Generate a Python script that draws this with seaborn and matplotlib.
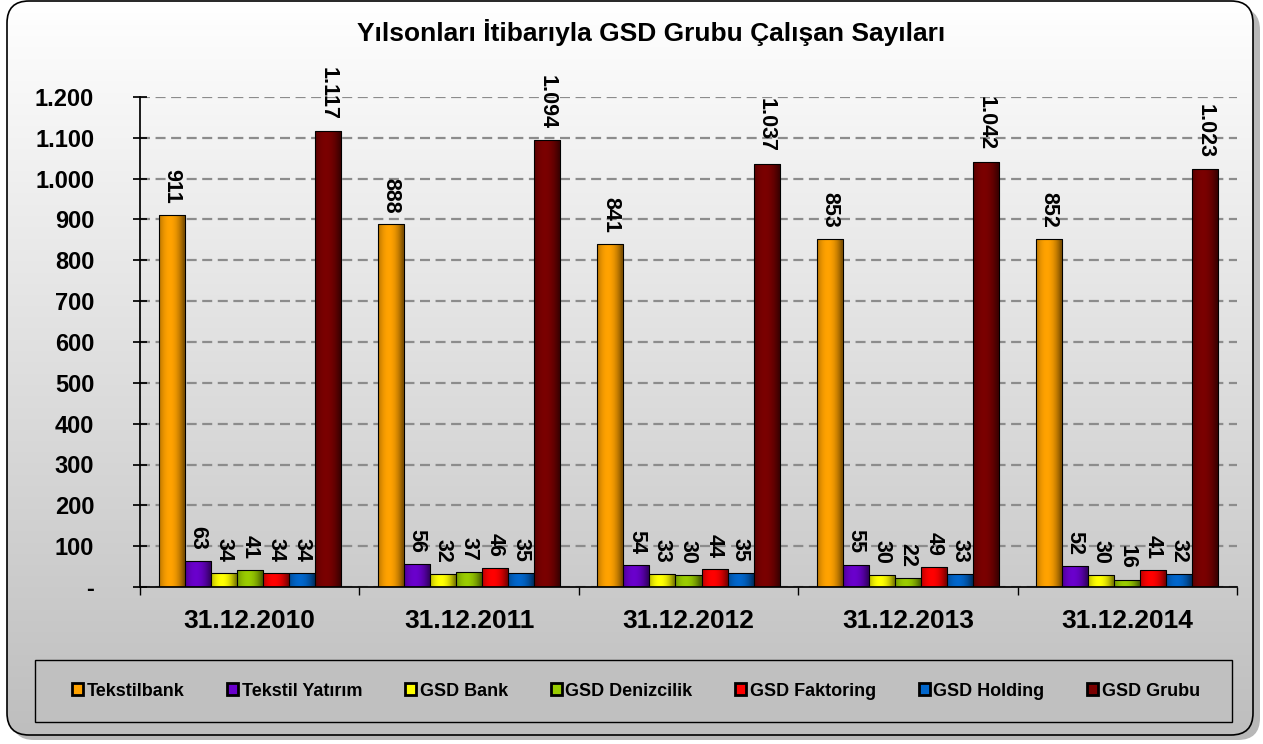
import numpy as np
import pandas as pd
import matplotlib
matplotlib.use("Agg")
import matplotlib.pyplot as plt
from matplotlib.patches import FancyBboxPatch
from matplotlib.ticker import FuncFormatter, FixedLocator
import seaborn as sns

years = ["31.12.2010", "31.12.2011", "31.12.2012", "31.12.2013", "31.12.2014"]
companies = ["Tekstilbank", "Tekstil Yatırım", "GSD Bank", "GSD Denizcilik",
             "GSD Faktoring", "GSD Holding", "GSD Grubu"]
tekstilbank = [911, 888, 841, 853, 852]
tekstil_yatirim = [63, 56, 54, 55, 52]
gsd_bank = [34, 32, 33, 30, 30]
gsd_denizcilik = [41, 37, 30, 22, 16]
gsd_faktoring = [34, 46, 44, 49, 41]
gsd_holding = [34, 35, 35, 33, 32]
gsd_grubu = [1117, 1094, 1037, 1042, 1023]
colors = ["#FFA200", "#6A00CC", "#FFFF00", "#99CC00", "#FF0000", "#0066CC", "#7A0000"]

series = [tekstilbank, tekstil_yatirim, gsd_bank, gsd_denizcilik,
          gsd_faktoring, gsd_holding, gsd_grubu]
df = pd.DataFrame([(y, c, v[i]) for c, v in zip(companies, series)
                   for i, y in enumerate(years)], columns=["year", "company", "value"])


def tr_fmt(v):
    if v == 0:
        return "-"
    return f"{int(round(v)):,}".replace(",", ".")


sns.set_theme(style="white")
plt.rcParams["font.family"] = ["Liberation Sans", "DejaVu Sans"]
plt.rcParams["text.color"] = "black"
plt.rcParams["xtick.color"] = "black"
plt.rcParams["ytick.color"] = "black"
plt.rcParams["axes.labelcolor"] = "black"

fig = plt.figure(figsize=(12.63, 7.44), dpi=100)
fig.patch.set_facecolor("white")

# gradient background inside a rounded frame
bg = fig.add_axes([0, 0, 1, 1], zorder=-10)
bg.set_xlim(0, 1263)
bg.set_ylim(744, 0)
bg.axis("off")
shadow = FancyBboxPatch((12, 8), 1248, 732, boxstyle="round,pad=0,rounding_size=22",
                        fc="#9a9a9a", ec="none", alpha=0.7, zorder=0)
bg.add_patch(shadow)
frame = FancyBboxPatch((7, 1), 1246, 734, boxstyle="round,pad=0,rounding_size=22",
                       fc="none", ec="black", lw=1.2, zorder=3)
bg.add_patch(frame)
grad = np.linspace(1, 0, 256).reshape(-1, 1)
im = bg.imshow(grad, extent=[7, 1253, 735, 1], aspect="auto", zorder=2,
               cmap=matplotlib.colors.LinearSegmentedColormap.from_list("g", ["#BEBEBE", "#FFFFFF"]),
               vmin=0, vmax=1)
im.set_clip_path(frame)

ax = fig.add_axes([140 / 1263, 1 - 587 / 744, 1097 / 1263, 490 / 744])
ax.patch.set_alpha(0)
sns.barplot(data=df, x="year", y="value", hue="company", hue_order=companies,
            palette=colors, width=0.83, edgecolor="black", linewidth=0.8,
            saturation=1, legend=True, ax=ax)

ax.set_ylim(0, 1200)
ax.set_xlim(-0.5, 4.5)

# cylinder-like shading on each bar
shade = np.zeros((1, 64, 4))
xs = np.linspace(-1, 1, 64)
shade[0, :, 3] = np.clip(np.abs(xs + 0.2) ** 2 * 0.45, 0, 0.5)
for cont in ax.containers:
    for p in cont.patches:
        x0, w, h = p.get_x(), p.get_width(), p.get_height()
        sim = ax.imshow(shade, extent=[x0, x0 + w, 0, h], aspect="auto",
                        zorder=p.get_zorder() + 0.1, interpolation="bilinear")
        sim.set_clip_path(p)
ax.set_ylim(0, 1200)
ax.set_xlim(-0.5, 4.5)

ax.set_yticks(np.arange(0, 1201, 100))
ax.yaxis.set_major_formatter(FuncFormatter(lambda v, p: tr_fmt(v)))
ax.yaxis.grid(True, color="#8c8c8c", linestyle=(0, (4.5, 2.5)), linewidth=1.6)
ax.set_axisbelow(True)
for s in ["top", "right"]:
    ax.spines[s].set_visible(False)
ax.spines["left"].set_color("black")
ax.spines["bottom"].set_color("black")
ax.tick_params(axis="y", which="major", left=True, length=10, direction="inout",
               color="black", labelsize=17, pad=28)
for t in ax.get_yticklabels():
    t.set_fontweight("bold")
ax.xaxis.set_minor_locator(FixedLocator(np.arange(-0.5, 4.6, 1)))
ax.tick_params(axis="x", which="minor", bottom=True, length=6, color="black")
ax.tick_params(axis="x", which="major", bottom=False, labelsize=19, pad=10)
for t in ax.get_xticklabels():
    t.set_fontweight("bold")
ax.set_xlabel("")
ax.set_ylabel("")

for cont in ax.containers:
    ax.bar_label(cont, labels=[tr_fmt(v) for v in cont.datavalues], rotation=-90,
                 padding=8, fontsize=15.5, fontweight="bold", color="black")

ax.legend_.remove()
handles = [plt.Rectangle((0, 0), 1, 1, fc=c, ec="black", lw=2) for c in colors]
leg = fig.legend(handles, companies, loc="center", ncol=7,
                 bbox_to_anchor=(636 / 1263, 1 - 691 / 744),
                 frameon=False, handlelength=0.62, handleheight=0.62,
                 handletextpad=0.2, columnspacing=2.36,
                 prop={"weight": "bold", "size": 13})
legbox = FancyBboxPatch((35, 660), 1197, 62, boxstyle="square,pad=0",
                        fc="#C0C0C0", ec="black", lw=1.0, zorder=4)
bg.add_patch(legbox)

fig.text(651 / 1263, 1 - 33 / 744, "Yılsonları İtibarıyla GSD Grubu Çalışan Sayıları",
         ha="center", va="center", fontsize=19, fontweight="bold")

fig.savefig("out.png", dpi=100)
